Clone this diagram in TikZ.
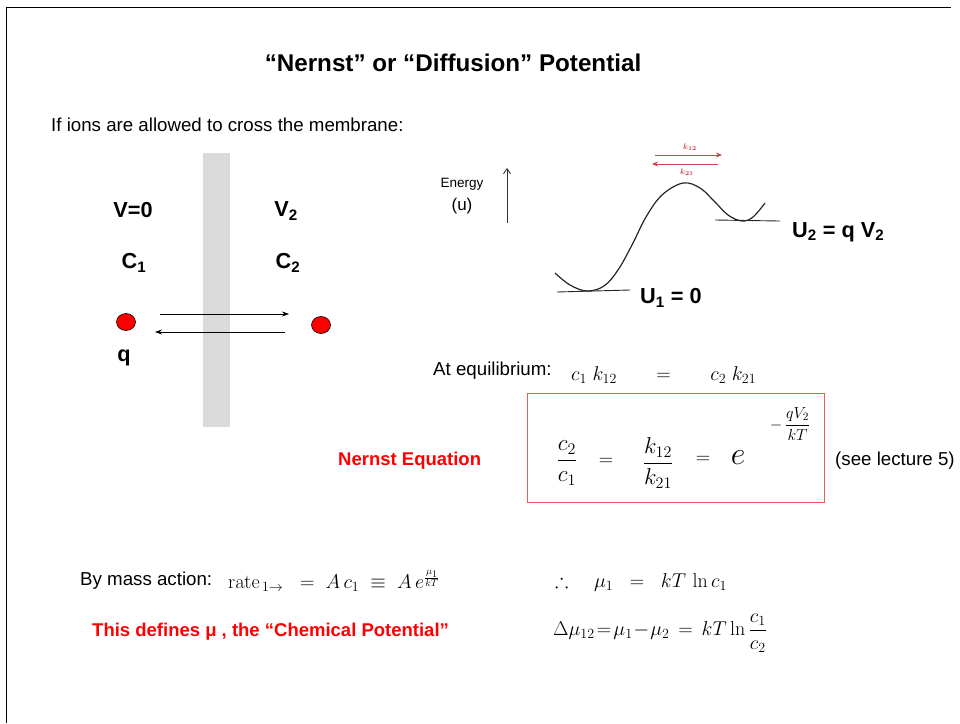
\RequirePackage{fix-cm}
\documentclass[tikz,border=0pt]{standalone}
\usepackage{amssymb}
\usepackage[no-math]{fontspec}
\setmainfont{Liberation Sans}
\usetikzlibrary{arrows.meta,shapes.geometric}
\newcommand{\dfr}[2]{{\displaystyle\frac{#1}{#2}}}
\definecolor{memgray}{HTML}{DADADA}
\definecolor{boxred}{HTML}{F05A5A}
\definecolor{arrred}{HTML}{C8404A}
\tikzset{
  txt/.style={inner sep=0, font=\fontsize{18.7}{22}\selectfont},
  ttl/.style={inner sep=0, font=\bfseries\fontsize{24.2}{28}\selectfont},
  lbl/.style={inner sep=0, font=\bfseries\fontsize{21.7}{25}\selectfont},
  redb/.style={inner sep=0, text=red, font=\bfseries\fontsize{18.5}{22}\selectfont},
  hand/.style={inner sep=0, font=\fontsize{20}{24}\selectfont},
  handsm/.style={inner sep=0, font=\fontsize{13.5}{15}\selectfont},
  kred/.style={inner sep=0, text=arrred, font=\fontsize{8}{9}\selectfont\boldmath},
  thinarr/.style={-{Stealth[length=7pt,width=5pt]}, line width=0.7pt},
  redarr/.style={-{Stealth[length=6pt,width=5pt]}, line width=0.8pt, draw=arrred},
  dot/.style={ellipse, draw=black, line width=0.6pt, fill=red, minimum width=19pt, minimum height=17pt, inner sep=0},
}
\begin{document}
\begin{tikzpicture}[x=1pt,y=-1pt]
\useasboundingbox (0,0) rectangle (960,723);
% frame
\draw[line width=0.8pt] (6,723) -- (6,7) -- (951,7);

% title and intro
\node[ttl] (title) at (453,63) {“Nernst” or “Diffusion” Potential};
\node[txt, anchor=west] (intro) at (51,125) {If ions are allowed to cross the membrane:};

% membrane
\fill[memgray] (203,153) rectangle (230,427);

\node[lbl] (v0) at (133,210) {V=0};
\node[lbl] (v2) at (286,211) {V\textsubscript{2}};
\node[lbl] (c1) at (134,263) {C\textsubscript{1}};
\node[lbl] (c2) at (288,263) {C\textsubscript{2}};
\node[lbl] (q) at (124,358) {q};

\node[dot] (d1) at (126,322) {};
\node[dot] (d2) at (321,325) {};
\coordinate (a1s) at (160,314);
\coordinate (a1e) at (289,314);
\coordinate (a2s) at (285,332);
\coordinate (a2e) at (155,332);
\draw[thinarr] (a1s) -- (a1e);
\draw[thinarr] (a2s) -- (a2e);

% energy diagram
\node[handsm] (energy) at (462,184) {Energy};
\node[inner sep=0, font=\fontsize{17}{19}\selectfont] (uu) at (462,206) {(u)};
\coordinate (ea0) at (507,223);
\coordinate (ea1) at (507,168);
\draw[-{Straight Barb[length=5pt,width=7pt]}, line width=0.9pt, draw=black!80] (ea0) -- (ea1);

\draw[line width=1.2pt, draw=black!85] plot[smooth, tension=0.6] coordinates {
 (555,273) (570,285) (587,291) (604,286) (618,270) (632,245) (646,217) (662,195) (683,183) (700,188) (714,201) (728,215) (742,221) (753,217) (765,203)};
\draw[line width=0.9pt, draw=black!85] (557,292) -- (630,290);
\draw[line width=0.9pt, draw=black!85] (715,220) -- (780,221);

\coordinate (r1s) at (655,155);
\coordinate (r1e) at (722,155);
\coordinate (r2s) at (718,164);
\coordinate (r2e) at (652,164);
\draw[redarr] (r1s) -- (r1e);
\draw[redarr] (r2s) -- (r2e);
\node[kred] (k12) at (690,147) {$k_{12}$};
\node[kred] (k21) at (687,172) {$k_{21}$};

\node[lbl, anchor=west] (u1) at (640,298) {U\textsubscript{1} = 0};
\node[lbl, anchor=west] (u2) at (792,232) {U\textsubscript{2} = q V\textsubscript{2}};

% equilibrium
\node[txt, anchor=west] (ateq) at (433,371) {At equilibrium:};
\node[hand, anchor=west] (ceq) at (571,375) {$c_{1}\;k_{12}\hspace{34pt}=\hspace{34pt}c_{2}\;k_{21}$};

% Nernst box
\node[draw=boxred, line width=1.3pt, minimum width=297pt, minimum height=109pt, inner sep=0, anchor=north west] (box) at (527,393) {};
\node[hand, font=\fontsize{23}{26}\selectfont] (frc) at (567,463) {$\dfr{c_2}{c_1}$};
\node[hand] (eqa) at (606,462) {$=$};
\node[hand, font=\fontsize{23}{26}\selectfont] (frk) at (658,463) {$\dfr{k_{12}}{k_{21}}$};
\node[hand] (eqb) at (703,460) {$=$};
\node[inner sep=0, font=\fontsize{32}{34}\selectfont] (ee) at (738,458) {$e$};
\node[inner sep=0, font=\fontsize{16}{18}\selectfont] (ex) at (790,424) {$-\,\dfr{qV_2}{kT}$};

\node[redb, anchor=west] (nernst) at (338,461) {Nernst Equation};
\node[txt, anchor=west] (see) at (835,461) {(see lecture 5)};

% mass action
\node[txt, anchor=west] (mass) at (80,581) {By mass action:};
\node[hand, anchor=west] (ma) at (228,581) {$\mathrm{rate}_{\,1\rightarrow}\;\;=\;A\,c_1\;\equiv\;A\,e^{\frac{\mu_1}{kT}}$};
\node[redb, anchor=west] (defines) at (92,632) {This defines μ , the “Chemical Potential”};

\node[hand, anchor=west] (mu1) at (555,582) {$\therefore\quad\mu_1\;\;=\;\;kT\,\ln c_1$};
\node[hand, anchor=west] (dmu) at (553,633) {$\Delta\mu_{12}\!=\!\mu_1\!-\!\mu_2\,=\,kT\ln\dfr{c_1}{c_2}$};
\end{tikzpicture}
\end{document}
